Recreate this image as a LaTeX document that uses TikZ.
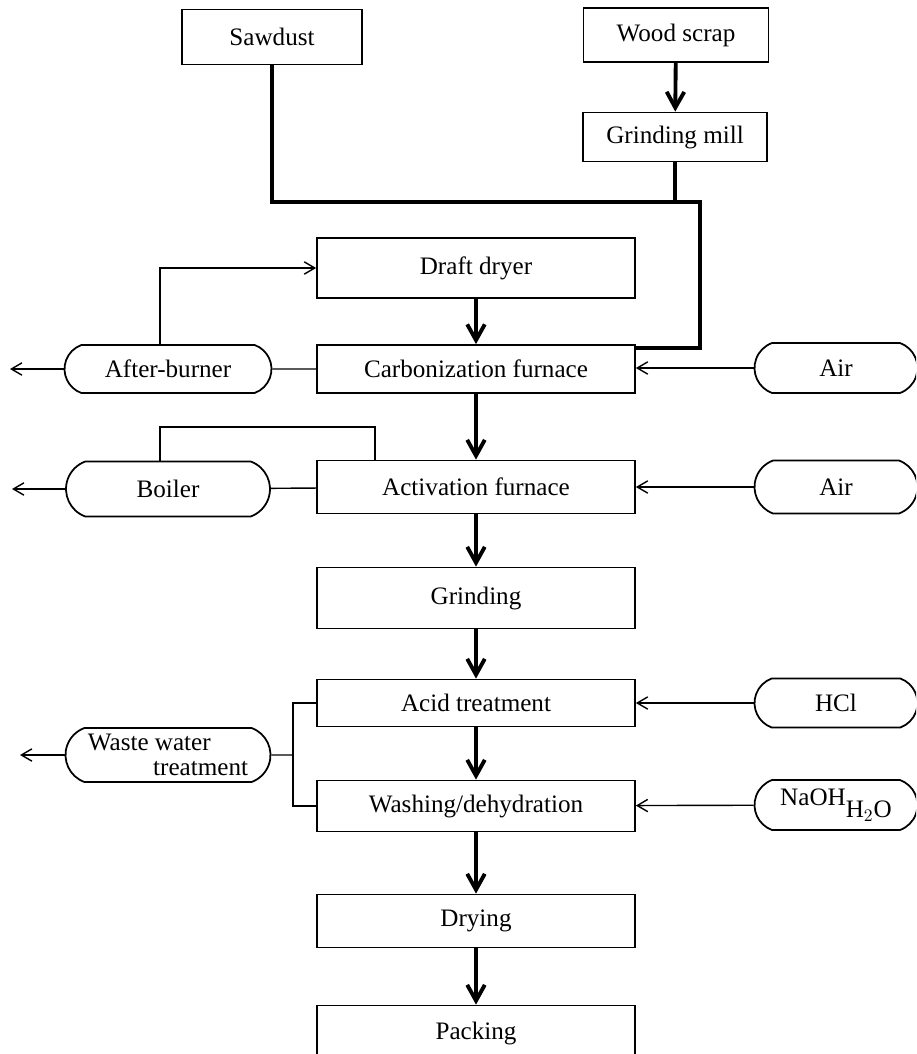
\documentclass[tikz,border=0pt]{standalone}
\usepackage{fontspec}
\setmainfont{Liberation Serif}
\usetikzlibrary{arrows.meta,shapes.misc}

\begin{document}
\begin{tikzpicture}[x=0.02cm, y=-0.02cm,
    font=\fontsize{14.3}{14.5}\selectfont,
    proc/.style={draw, line width=1pt, rectangle, inner sep=0pt},
    feed/.style={draw, line width=1pt, rounded rectangle, rounded rectangle arc length=140, inner sep=0pt},
    flow/.style={line width=2.2pt, -{Straight Barb[length=9pt,width=10pt,line width=2.2pt]}},
    main/.style={line width=2.2pt},
    pipe/.style={line width=0.8pt},
    pipearrow/.style={pipe, -{Straight Barb[length=6pt,width=7pt]}},
  ]
    \path[use as bounding box, clip] (0,0) rectangle (916,1054);

    % Raw material
    \node[proc, minimum width=3.6cm, minimum height=1.1cm] (sawdust) at (272,37) {Sawdust};
    \node[proc, minimum width=3.7cm, minimum height=1.08cm] (scrap) at (676,35) {Wood scrap};
    \node[proc, minimum width=3.68cm, minimum height=0.98cm] (mill) at (675,137) {Grinding mill};

    % Main process line
    \node[proc, minimum width=6.36cm, minimum height=1.2cm] (dryer) at (476,268) {Draft dryer};
    \node[proc, minimum width=6.36cm, minimum height=0.96cm] (carbon) at (476,369) {Carbonization furnace};
    \node[proc, minimum width=6.36cm, minimum height=1.06cm] (activ) at (476,487) {Activation furnace};
    \node[proc, minimum width=6.36cm, minimum height=1.22cm] (grind) at (476,598) {Grinding};
    \node[proc, minimum width=6.36cm, minimum height=0.94cm] (acid) at (476,703) {Acid treatment};
    \node[proc, minimum width=6.36cm, minimum height=1.02cm] (wash) at (476,806) {Washing/dehydration};
    \node[proc, minimum width=6.36cm, minimum height=1.06cm] (drying) at (476,921) {Drying};
    \node[proc, minimum width=6.36cm, minimum height=1.1cm] (packing) at (476,1033) {Packing};

    % Side units
    \node[feed, minimum width=4.14cm, minimum height=0.96cm] (after) at (168,369) {After-burner};
    \node[feed, minimum width=4.08cm, minimum height=1.1cm] (boiler) at (168,489) {Boiler};
    \node[feed, minimum width=4.1cm, minimum height=1.08cm, align=left] (waste) at (168,755) {Waste water\\\hspace*{2.6em}treatment};

    % Inputs
    \node[feed, minimum width=3.26cm, minimum height=1.0cm] (air1) at (836,368) {Air};
    \node[feed, minimum width=3.26cm, minimum height=1.06cm] (air2) at (836,487) {Air};
    \node[feed, minimum width=3.26cm, minimum height=0.98cm] (hcl) at (836,703) {HCl};
    \node[feed, minimum width=3.26cm, minimum height=1.0cm] (naoh) at (836,805) {NaOH\raisebox{-1.1ex}{H$_2$O}};

    % Feed lines
    \coordinate (bend) at (700,202);
    \draw[flow] (scrap) -- (mill);
    \draw[main] (sawdust) |- (bend) |- ([yshift=-2pt]carbon.north east);
    \draw[main] (mill) -- (mill |- bend);

    % Main flow
    \draw[flow] (dryer) -- (carbon);
    \draw[flow] (carbon) -- (activ);
    \draw[flow] (activ) -- (grind);
    \draw[flow] (grind) -- (acid);
    \draw[flow] (acid) -- (wash);
    \draw[flow] (wash) -- (drying);
    \draw[flow] (drying) -- (packing);

    % Gas lines
    \coordinate (exhaust1) at (10,369);
    \coordinate (exhaust2) at (12,489);
    \coordinate (loop) at (375,427);
    \draw[pipe] (after) -- (carbon);
    \draw[pipearrow] (after) -- (exhaust1);
    \draw[pipearrow] ([xshift=-0.16cm]after.north) |- (dryer);
    \draw[pipe] (boiler) -- (activ);
    \draw[pipearrow] (boiler) -- (exhaust2);
    \draw[pipe] ([xshift=-0.16cm]boiler.north) |- (loop) -- (loop |- activ.north);
    \draw[pipearrow] (air1.west) -- (air1.west -| carbon.east);
    \draw[pipearrow] (air2) -- (activ);

    % Liquid lines
    \coordinate (split) at (293,755);
    \coordinate (exhaust3) at (20,755);
    \draw[pipearrow] (hcl) -- (acid);
    \draw[pipearrow] (naoh) -- (wash);
    \draw[pipe] (acid.west) -| (split) |- (wash.west);
    \draw[pipe] (waste) -- (split);
    \draw[pipearrow] (waste) -- (exhaust3);
\end{tikzpicture}
\end{document}
